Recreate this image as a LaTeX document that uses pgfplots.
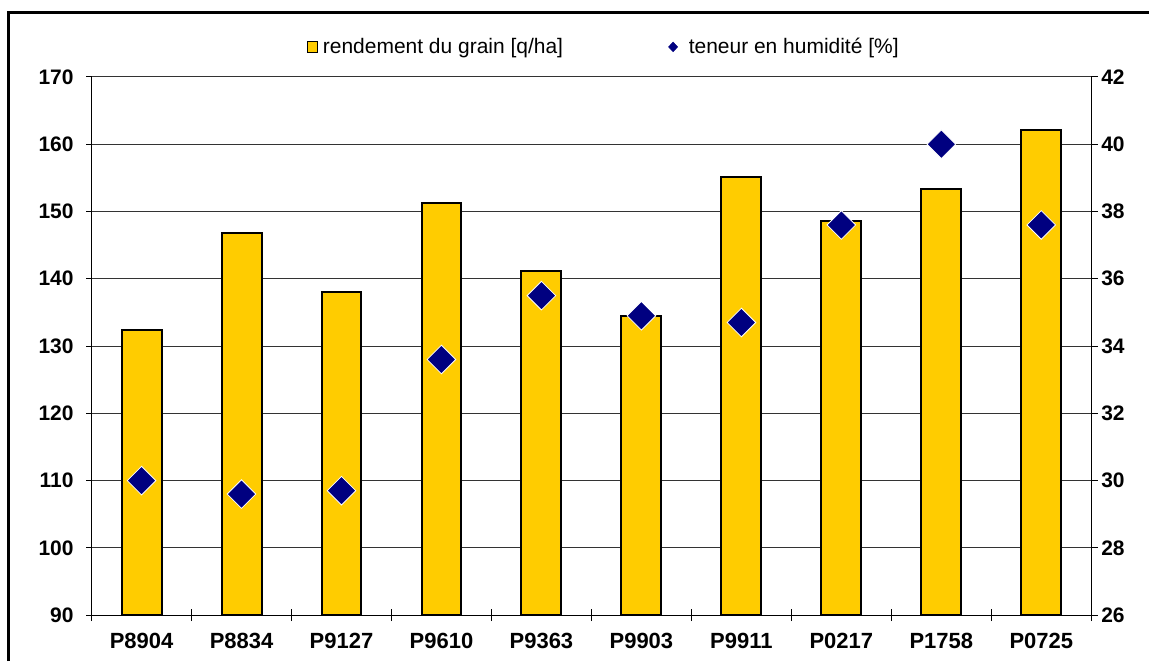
\documentclass[border=0pt]{standalone}
\usepackage{pgfplots}
\pgfplotsset{compat=1.18}
\usepackage{fontspec}
\setmainfont{Liberation Sans}
\definecolor{barcol}{HTML}{FFCC00}
\definecolor{navy}{HTML}{000080}

\begin{document}
\begin{tikzpicture}
% picture area: 1150 x 662 px at 0.75pt per px
\path (0,0) rectangle (862.5pt,496.5pt);
\draw[line width=2.25pt] (6.75pt,0pt) -- (6.75pt,486.75pt) -- (862.5pt,486.75pt);

\pgfplotsset{
  every axis/.append style={
    scale only axis, width=750.75pt, height=404.25pt,
    at={(68.775pt,34.5pt)}, anchor=south west,
    xmin=-0.5, xmax=9.5,
    /pgf/number format/assume math mode=true,
    tick label style={font=\bfseries\fontsize{15.75}{18}\selectfont},
    axis line style={line width=1pt},
    tick style={line width=0.8pt, black},
  }
}

\begin{axis}[
  ymin=90, ymax=170, ytick={90,100,...,170},
  axis x line*=bottom, axis y line*=left,
  xtick={0,...,9},
  xticklabels={P8904,P8834,P9127,P9610,P9363,P9903,P9911,P0217,P1758,P0725},
  major x tick style={draw=none},
  minor xtick={-0.5,0.5,...,9.5},
  xtick align=center, ytick align=outside,
  major tick length=4pt, minor tick length=9pt,
  yticklabel style={xshift=-6pt},
  xticklabel style={yshift=-8pt, font=\bfseries\fontsize{16.5}{19}\selectfont},
  ymajorgrids, grid style={black!80, line width=0.75pt},
]
\addplot[ybar, bar width=30pt, fill=barcol, draw=black, line width=1.5pt] coordinates {
  (0,132.4) (1,146.8) (2,138.1) (3,151.2) (4,141.1)
  (5,134.5) (6,155.1) (7,148.6) (8,153.3) (9,162.1)};
\end{axis}

\begin{axis}[
  ymin=26, ymax=42, ytick={26,28,...,42},
  axis y line*=right, axis x line=none,
  ytick align=outside, major tick length=5pt,
  yticklabel style={xshift=-1pt},
  legend columns=2,
  legend style={draw=none, fill=none, at={(0.5125,1.0557)}, anchor=center,
    font=\fontsize{15.75}{18}\selectfont,
    /tikz/every even column/.append style={column sep=77pt}},
]
\addlegendimage{fill=barcol, draw=black, line width=0.8pt,
  legend image code/.code={\draw (0pt,-4pt) rectangle (8pt,4pt); \path (9.5pt,0pt);}}
\addlegendentry{rendement du grain [q/ha]}
\addlegendimage{legend image code/.code={
  \fill[navy] (0pt,0pt) -- (3.4pt,3.6pt) -- (6.8pt,0pt) -- (3.4pt,-3.6pt) -- cycle;
  \path (13pt,0pt);}}
\addlegendentry{teneur en humidité [\%]}
\addplot[forget plot, only marks, mark=square*, mark size=7.6pt,
  mark options={rotate=45, fill=navy, draw=white, line width=0.6pt}] coordinates {
  (0,30.0) (1,29.6) (2,29.7) (3,33.6) (4,35.5)
  (5,34.9) (6,34.7) (7,37.6) (8,40.0) (9,37.6)};
\end{axis}
\end{tikzpicture}
\end{document}
